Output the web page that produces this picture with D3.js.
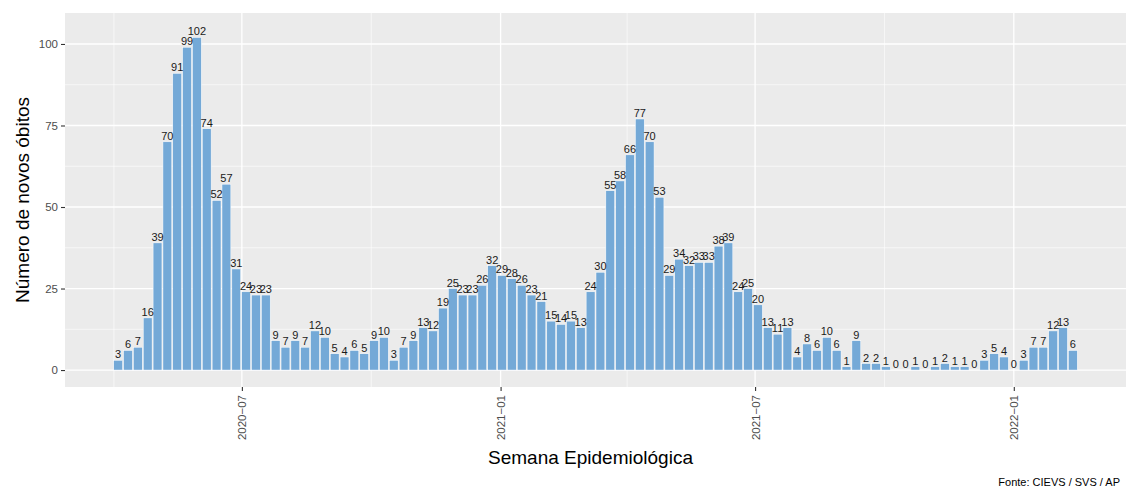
<!DOCTYPE html>
<html>
<head>
<meta charset="utf-8">
<script src="https://cdn.jsdelivr.net/npm/d3@7"></script>
<style>
  body { margin: 0; background: white; }
  svg { display: block; }
</style>
</head>
<body>
<div id="grafico"></div>
<script>
let font = "Liberation Sans, Arial, sans-serif"

// semana epidemiologica (primeira semana) e obitos novos por semana
let primeiraSemana = new Date(Date.UTC(2020, 3, 4))
let obitos = [3, 6, 7, 16, 39, 70, 91, 99, 102, 74, 52, 57, 31, 24, 23, 23, 9, 7, 9, 7,
    12, 10, 5, 4, 6, 5, 9, 10, 3, 7, 9, 13, 12, 19, 25, 23, 23, 26, 32, 29,
    28, 26, 23, 21, 15, 14, 15, 13, 24, 30, 55, 58, 66, 77, 70, 53, 29, 34, 32, 33,
    33, 38, 39, 24, 25, 20, 13, 11, 13, 4, 8, 6, 10, 6, 1, 9, 2, 2, 1, 0,
    0, 1, 0, 1, 2, 1, 1, 0, 3, 5, 4, 0, 3, 7, 7, 12, 13, 6]
let semanas = obitos.map((d, i) => d3.utcDay.offset(primeiraSemana, 7 * i))

let xTicks = [new Date(Date.UTC(2020, 6, 1)), new Date(Date.UTC(2021, 0, 1)),
    new Date(Date.UTC(2021, 6, 1)), new Date(Date.UTC(2022, 0, 1))]
let xMinor = [new Date(Date.UTC(2020, 3, 1)), new Date(Date.UTC(2020, 9, 1)),
    new Date(Date.UTC(2021, 3, 1)), new Date(Date.UTC(2021, 9, 1))]
let yTicks = [0, 25, 50, 75, 100]
let yMinor = [12.5, 37.5, 62.5, 87.5]

let corBarra = "#74A9D7"

let dados = semanas.map((s, i) => ({ semana: s, val: obitos[i] }))

let W = 1126, H = 488
let margin = { top: 13, right: 0, bottom: 101, left: 65 }
let width = W - margin.left - margin.right
let height = H - margin.top - margin.bottom

let svg = d3.select("#grafico").append("svg")
    .attr("width", W)
    .attr("height", H)

// dominio x como no ggplot: meia semana + 5% de expansao
let semiDia = 3.5 * 864e5
let x0 = +semanas[0] - semiDia, x1 = +semanas[semanas.length - 1] + semiDia
let ex = (x1 - x0) * 0.05
let x = d3.scaleUtc()
    .domain([new Date(x0 - ex), new Date(x1 + ex)])
    .range([0, width])

let y = d3.scaleLinear()
    .domain([-5.2, 109.5])
    .range([height, 0])

let g = svg.append("g")
    .attr("transform", "translate(" + margin.left + "," + margin.top + ")")

// painel
g.append("rect")
    .attr("width", width).attr("height", height)
    .attr("fill", "#EBEBEB")

// grades
g.selectAll(".yminor").data(yMinor).enter().append("line")
    .attr("x1", 0).attr("x2", width)
    .attr("y1", d => y(d)).attr("y2", d => y(d))
    .attr("stroke", "white").attr("stroke-width", 0.6)
g.selectAll(".xminor").data(xMinor).enter().append("line")
    .attr("y1", 0).attr("y2", height)
    .attr("x1", d => x(d)).attr("x2", d => x(d))
    .attr("stroke", "white").attr("stroke-width", 0.6)
g.selectAll(".ymajor").data(yTicks).enter().append("line")
    .attr("x1", 0).attr("x2", width)
    .attr("y1", d => y(d)).attr("y2", d => y(d))
    .attr("stroke", "white").attr("stroke-width", 1.3)
g.selectAll(".xmajor").data(xTicks).enter().append("line")
    .attr("y1", 0).attr("y2", height)
    .attr("x1", d => x(d)).attr("x2", d => x(d))
    .attr("stroke", "white").attr("stroke-width", 1.3)

// barras
let larg = x(new Date(+semanas[0] + 0.9 * 7 * 864e5)) - x(semanas[0])
g.selectAll(".bar").data(dados).enter().append("rect")
    .attr("class", "bar")
    .attr("x", d => x(d.semana) - larg / 2)
    .attr("width", larg)
    .attr("y", d => y(d.val))
    .attr("height", d => y(0) - y(d.val))
    .attr("fill", corBarra)
    .attr("stroke", "white")
    .attr("stroke-width", 0.5)

// rotulos
g.selectAll(".balkentext").data(dados).enter().append("text")
    .attr("x", d => x(d.semana))
    .attr("y", d => y(d.val) - 2)
    .attr("text-anchor", "middle")
    .attr("font-family", font)
    .attr("font-size", "11px")
    .attr("fill", "#1a1a1a")
    .text(d => d.val)

// eixo y
let yAxis = g.append("g")
    .call(d3.axisLeft(y).tickValues(yTicks).tickSize(4).tickPadding(3))
yAxis.select(".domain").remove()
yAxis.selectAll("line").attr("stroke", "#333333").attr("stroke-width", 1.1)
yAxis.selectAll("text").attr("fill", "#4D4D4D").attr("font-family", font).attr("font-size", "11.5px")

// eixo x
let xAxis = g.append("g")
    .attr("transform", "translate(0," + height + ")")
    .call(d3.axisBottom(x).tickValues(xTicks).tickSize(4).tickFormat(d => d3.utcFormat("%Y−%m")(d)))
xAxis.select(".domain").remove()
xAxis.selectAll("line").attr("stroke", "#333333").attr("stroke-width", 1.1)
xAxis.selectAll("text")
    .attr("fill", "#4D4D4D").attr("font-family", font).attr("font-size", "11.5px")
    .attr("text-anchor", "end")
    .attr("transform", "rotate(-90)")
    .attr("x", -8).attr("y", 0).attr("dy", "0.35em")

// titulos
svg.append("text")
    .attr("x", margin.left + width / 2 - 5)
    .attr("y", 464)
    .attr("text-anchor", "middle")
    .attr("font-family", font).attr("font-size", "19px")
    .attr("fill", "black")
    .text("Semana Epidemiológica")

svg.append("text")
    .attr("transform", "translate(29," + (margin.top + height / 2) + ") rotate(-90)")
    .attr("text-anchor", "middle")
    .attr("font-family", font).attr("font-size", "19px")
    .attr("fill", "black")
    .text("Número de novos óbitos")

svg.append("text")
    .attr("x", 1120)
    .attr("y", 486)
    .attr("text-anchor", "end")
    .attr("font-family", font).attr("font-size", "11px")
    .attr("fill", "black")
    .text("Fonte: CIEVS / SVS / AP")
</script>
</body>
</html>
